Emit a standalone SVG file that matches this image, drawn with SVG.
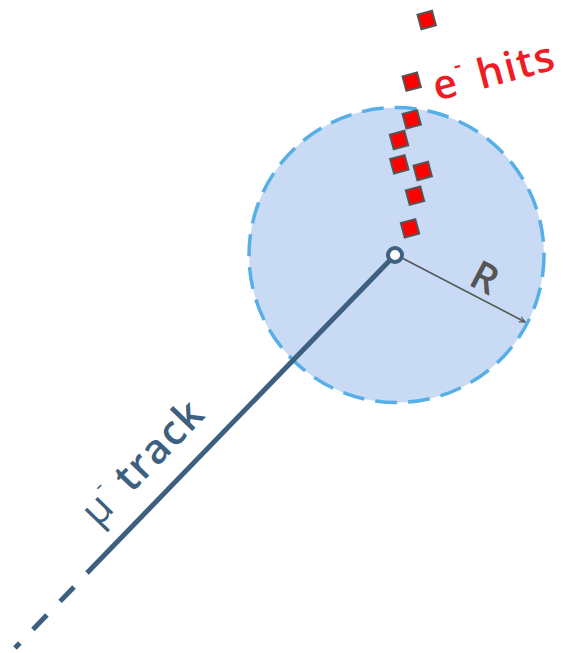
<svg xmlns="http://www.w3.org/2000/svg" width="563" height="653" viewBox="0 0 563 653">
<style>
.hit{fill:#ff0000;stroke:#555555;stroke-width:2}
.trk{stroke:#3d5f80;stroke-width:5;fill:none}
</style>
<defs>
<marker id="arr" viewBox="0 0 10 10" refX="9" refY="5" markerWidth="7" markerHeight="7" orient="auto" markerUnits="userSpaceOnUse">
<path d="M1,1 L9,5 L1,9" fill="none" stroke="#555555" stroke-width="1.5"/>
</marker>
</defs>
<rect width="563" height="653" fill="#ffffff"/>
<g id="region">
<circle cx="396.5" cy="255" r="147.5" fill="#c9daf5" stroke="#56afe6" stroke-width="3.5" stroke-dasharray="22 11"/>
</g>
<g id="connectors">
<line class="trk" x1="395" y1="255" x2="87" y2="573"/>
<line class="trk" x1="74" y1="587" x2="15" y2="648" stroke-dasharray="20 19"/>
<line x1="402" y1="258" x2="525" y2="322" stroke="#555555" stroke-width="1.5" marker-end="url(#arr)"/>
</g>
<g id="vertex">
<circle cx="395" cy="255" r="7" fill="#ffffff" stroke="#3d5f80" stroke-width="4"/>
</g>
<g id="hits">
<rect class="hit" x="-7.5" y="-7.5" width="15" height="15" transform="translate(426.7,20) rotate(-15)"/>
<rect class="hit" x="-7.5" y="-7.5" width="15" height="15" transform="translate(411.7,81.7) rotate(-15)"/>
<rect class="hit" x="-7.5" y="-7.5" width="15" height="15" transform="translate(411.7,119.3) rotate(-15)"/>
<rect class="hit" x="-7.5" y="-7.5" width="15" height="15" transform="translate(399,140) rotate(-15)"/>
<rect class="hit" x="-7.5" y="-7.5" width="15" height="15" transform="translate(399.3,164.3) rotate(-15)"/>
<rect class="hit" x="-7.5" y="-7.5" width="15" height="15" transform="translate(422.7,171) rotate(-15)"/>
<rect class="hit" x="-7.5" y="-7.5" width="15" height="15" transform="translate(415,195.7) rotate(-15)"/>
<rect class="hit" x="-7.5" y="-7.5" width="15" height="15" transform="translate(410,228.3) rotate(-15)"/>
</g>
<g id="label-hits">
<text transform="translate(437,101) rotate(-15)" font-family="'Open Sans','Noto Sans',sans-serif" font-size="41" font-weight="600" letter-spacing="1.5" fill="#ee1c24">e<tspan font-size="22" dy="-22">-</tspan><tspan dy="22"> hits</tspan></text>
</g>
<g id="label-track">
<text transform="translate(98,528) rotate(-45.8)" font-family="'Open Sans','Noto Sans',sans-serif" font-size="41" fill="#3d5f80" letter-spacing="1.5"><tspan font-weight="400">μ</tspan><tspan font-size="22" dy="-22">-</tspan><tspan dy="22" font-weight="600"> track</tspan></text>
</g>
<g id="label-R">
<text transform="translate(467,284) rotate(27.5)" font-family="'Open Sans','Noto Sans',sans-serif" font-size="40" font-weight="600" fill="#555555">R</text>
</g>
</svg>
